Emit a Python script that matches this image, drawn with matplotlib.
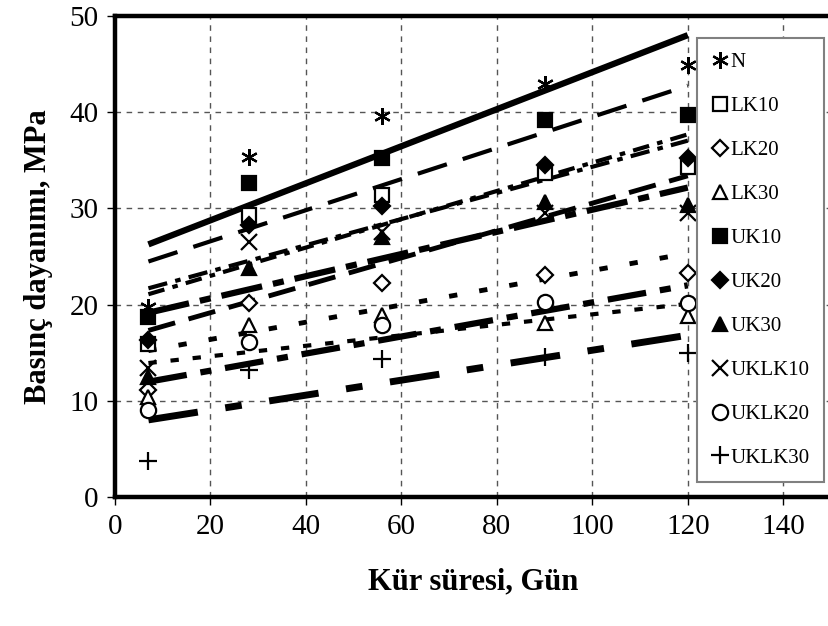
import numpy as np
import matplotlib
matplotlib.use("Agg")
import matplotlib.pyplot as plt

plt.rcParams['font.family'] = ['Liberation Serif', 'DejaVu Serif']
plt.rcParams['lines.scale_dashes'] = False

days = [7, 28, 56, 90, 120]

names = ["N", "LK10", "LK20", "LK30", "UK10", "UK20", "UK30",
         "UKLK10", "UKLK20", "UKLK30"]

N = [19.8, 35.3, 39.6, 42.9, 44.9]
LK10 = [15.9, 29.3, 31.4, 33.7, 34.3]
LK20 = [11.1, 20.2, 22.2, 23.1, 23.3]
LK30 = [10.4, 17.9, 18.9, 18.1, 18.8]
UK10 = [18.7, 32.6, 35.2, 39.2, 39.7]
UK20 = [16.3, 28.3, 30.2, 34.5, 35.2]
UK30 = [12.5, 23.8, 27.0, 30.7, 30.4]
UKLK10 = [13.4, 26.5, 27.5, 29.5, 29.5]
UKLK20 = [9.0, 16.1, 17.9, 20.3, 20.2]
UKLK30 = [3.7, 13.2, 14.3, 14.6, 15.0]

series = [N, LK10, LK20, LK30, UK10, UK20, UK30, UKLK10, UKLK20, UKLK30]

# marker, filled?, size
markers = [((6, 2, 0), True, 12), ('s', False, 10), ('D', False, 8),
           ('^', False, 10), ('s', True, 10), ('D', True, 8),
           ('^', True, 10), ('x', True, 11), ('o', False, 11),
           ('+', True, 13)]

# trend line styles (linear fits, as in the original Excel chart)
line_styles = ['-', (0, (14, 6, 4, 6)), (0, (6, 16)), (0, (6, 10)),
               (0, (22, 12)), (0, (12, 6, 4, 6)), (0, (20, 10)),
               (0, (30, 8, 8, 8)), (0, (28, 10, 8, 10)), (0, (36, 20, 12, 20))]
line_widths = [4.5, 3, 3.5, 3, 3, 3, 3.5, 4.5, 4.5, 5]

fig = plt.figure(figsize=(8.29, 6.26), dpi=100)
ax = fig.add_axes([115 / 829, 1 - 497 / 626, 716 / 829, 481 / 626])

x = np.array(days)
for vals, ls, lw in zip(series, line_styles, line_widths):
    k, b = np.polyfit(x, vals, 1)
    xx = np.array([x[0], x[-1]])
    ax.plot(xx, k * xx + b, color='black', linestyle=ls, linewidth=lw,
            solid_capstyle='butt', dash_capstyle='butt', zorder=3)

for name, vals, (m, filled, ms) in zip(names, series, markers):
    ax.plot(days, vals, linestyle='none', marker=m, markersize=ms,
            markerfacecolor='black' if filled else 'white',
            markeredgecolor='black', markeredgewidth=1.6, label=name, zorder=4)

ax.set_xlim(0, 150)
ax.set_ylim(0, 50)
ax.set_xticks(range(0, 141, 20))
ax.set_yticks(range(0, 51, 10))
ax.grid(True, color='#555555', linestyle=(0, (4, 4)), linewidth=1)
ax.set_axisbelow(True)
for s in ax.spines.values():
    s.set_linewidth(3.2)
ax.spines['right'].set_visible(False)
ax.tick_params(direction='out', length=6, width=1, labelsize=21, pad=6)

ax.set_xlabel('Kür süresi, Gün', fontsize=22, fontweight='bold', labelpad=20)
ax.set_ylabel('Basınç dayanımı, MPa', fontsize=22, fontweight='bold', labelpad=12)

leg = ax.legend(loc='upper left', bbox_to_anchor=(697 / 829, 1 - 38 / 626),
                bbox_transform=fig.transFigure, borderaxespad=0,
                fontsize=15, frameon=True, fancybox=False, framealpha=1,
                edgecolor='#808080', handlelength=0.8, handletextpad=0.1,
                labelspacing=1.17, borderpad=0.7)
leg.get_frame().set_linewidth(1.5)
leg.set_zorder(10)

fig.savefig('out.png', dpi=100)
